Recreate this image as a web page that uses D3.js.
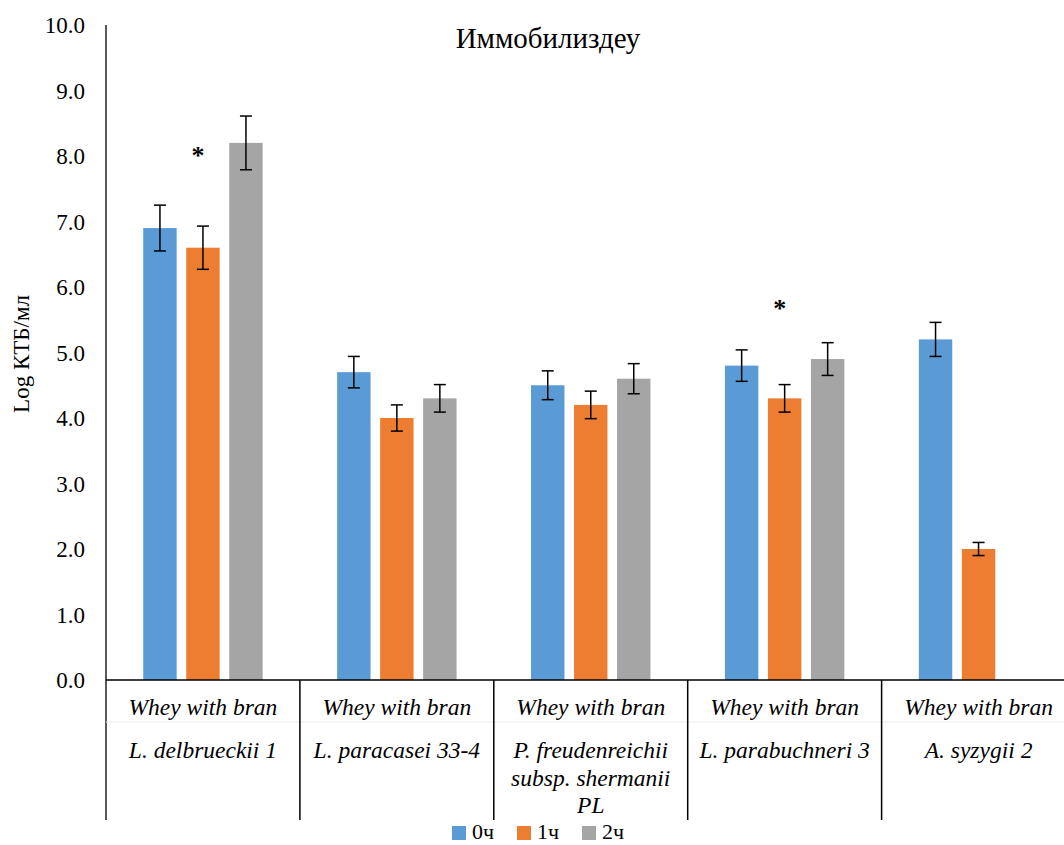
<!DOCTYPE html>
<html>
<head>
<meta charset="utf-8">
<script src="https://cdn.jsdelivr.net/npm/d3@7"></script>
<style>
  body { margin: 0; background: #fff; }
</style>
</head>
<body>
<svg width="1064" height="845"></svg>
<script>
// groups (two-line category labels) and series
const groupTop = ["Whey with bran", "Whey with bran", "Whey with bran", "Whey with bran", "Whey with bran"];
const groupNames = [
  ["L. delbrueckii 1"],
  ["L. paracasei 33-4"],
  ["P. freudenreichii", "subsp. shermanii", "PL"],
  ["L. parabuchneri 3"],
  ["A. syzygii 2"]
];
const series = ["0ч", "1ч", "2ч"];
const colors = ["#5B9BD5", "#ED7D31", "#A5A5A5"];

// values per series (Log КТБ/мл) and error bar half-widths
const vals0 = [6.9, 4.7, 4.5, 4.8, 5.2];
const vals1 = [6.6, 4.0, 4.2, 4.3, 2.0];
const vals2 = [8.2, 4.3, 4.6, 4.9, 0.0];
const err0 = [0.35, 0.24, 0.22, 0.24, 0.26];
const err1 = [0.33, 0.20, 0.21, 0.21, 0.10];
const err2 = [0.41, 0.21, 0.23, 0.25, 0];

// asterisks: group index and height
const starGroups = [0, 3];
const starValues = [8.07, 5.74];

const yTicks = [0, 1, 2, 3, 4, 5, 6, 7, 8, 9, 10];

let svg = d3.select("svg")
    .attr("font-family", "'Liberation Serif', 'Times New Roman', serif");

let plotLeft = 106, plotRight = 1075.5, plotTop = 25, plotBottom = 680;

let x0 = d3.scaleBand().domain(d3.range(groupTop.length)).range([plotLeft, plotRight]).padding(0);
let x1 = d3.scaleBand().domain(series).range([0, x0.bandwidth()])
    .paddingInner(0.223).paddingOuter(0.866);
let y = d3.scaleLinear().domain([0, 10]).range([plotBottom, plotTop]);

// build rows
let rows = [];
groupTop.forEach((g, i) => {
  [vals0, vals1, vals2].forEach((arr, s) => {
    rows.push({g: i, s: series[s], c: colors[s], v: arr[i], e: [err0, err1, err2][s][i]});
  });
});

// bars
svg.append("g").selectAll("rect")
  .data(rows)
  .enter().append("rect")
  .attr("x", d => x0(d.g) + x1(d.s))
  .attr("y", d => y(d.v))
  .attr("width", x1.bandwidth())
  .attr("height", d => y(0) - y(d.v))
  .attr("fill", d => d.c);

// error bars
let eb = svg.append("g").attr("stroke", "#000").attr("stroke-width", 1.5);
rows.filter(d => d.e > 0).forEach(d => {
  let cx = x0(d.g) + x1(d.s) + x1.bandwidth() / 2;
  eb.append("line").attr("x1", cx).attr("x2", cx).attr("y1", y(d.v + d.e)).attr("y2", y(d.v - d.e));
  eb.append("line").attr("x1", cx - 6).attr("x2", cx + 6).attr("y1", y(d.v + d.e)).attr("y2", y(d.v + d.e));
  eb.append("line").attr("x1", cx - 6).attr("x2", cx + 6).attr("y1", y(d.v - d.e)).attr("y2", y(d.v - d.e));
});

// asterisks
starGroups.forEach((g, i) => {
  svg.append("text")
    .attr("x", x0(g) + x1("1ч") + x1.bandwidth() / 2 - 5)
    .attr("y", y(starValues[i]) + 13)
    .attr("text-anchor", "middle")
    .attr("font-size", 26)
    .attr("font-weight", "bold")
    .text("*");
});

// y axis
svg.append("line").attr("x1", plotLeft).attr("x2", plotLeft).attr("y1", plotTop).attr("y2", 820)
  .attr("stroke", "#000").attr("stroke-width", 1.3);
svg.append("g").selectAll("text")
  .data(yTicks)
  .enter().append("text")
  .attr("x", 85)
  .attr("y", d => y(d) + 8)
  .attr("text-anchor", "end")
  .attr("font-size", 23)
  .text(d => d3.format(".1f")(d));

// x axis + category separators
svg.append("line").attr("x1", plotLeft).attr("x2", 1064).attr("y1", plotBottom).attr("y2", plotBottom)
  .attr("stroke", "#000").attr("stroke-width", 1.5);
svg.append("line").attr("x1", plotLeft).attr("x2", 1064).attr("y1", 722).attr("y2", 722)
  .attr("stroke", "#ececec").attr("stroke-width", 1);
svg.append("g").selectAll("line")
  .data(d3.range(1, groupTop.length))
  .enter().append("line")
  .attr("x1", d => x0(d)).attr("x2", d => x0(d))
  .attr("y1", plotBottom).attr("y2", 820)
  .attr("stroke", "#000").attr("stroke-width", 1.5);

// category labels
let lab = svg.append("g").attr("font-style", "italic").attr("font-size", 23.5).attr("text-anchor", "middle");
groupTop.forEach((t, i) => {
  let cx = x0(i) + x0.bandwidth() / 2;
  lab.append("text").attr("x", cx).attr("y", 715).text(t);
  groupNames[i].forEach((n, j) => {
    lab.append("text").attr("x", cx).attr("y", 758 + j * 27.5).text(n);
  });
});

// title
svg.append("text").attr("x", 548).attr("y", 48).attr("text-anchor", "middle")
  .attr("font-size", 29).text("Иммобилиздеу");

// y label
svg.append("text").attr("transform", "translate(29,354) rotate(-90)")
  .attr("text-anchor", "middle").attr("font-size", 23).text("Log КТБ/мл");

// legend
let leg = svg.append("g");
let lx = [452, 517, 582];
series.forEach((s, i) => {
  leg.append("rect").attr("x", lx[i]).attr("y", 826).attr("width", 14).attr("height", 14).attr("fill", colors[i]);
  leg.append("text").attr("x", lx[i] + 20).attr("y", 839).attr("font-size", 22).text(s);
});
</script>
</body>
</html>
